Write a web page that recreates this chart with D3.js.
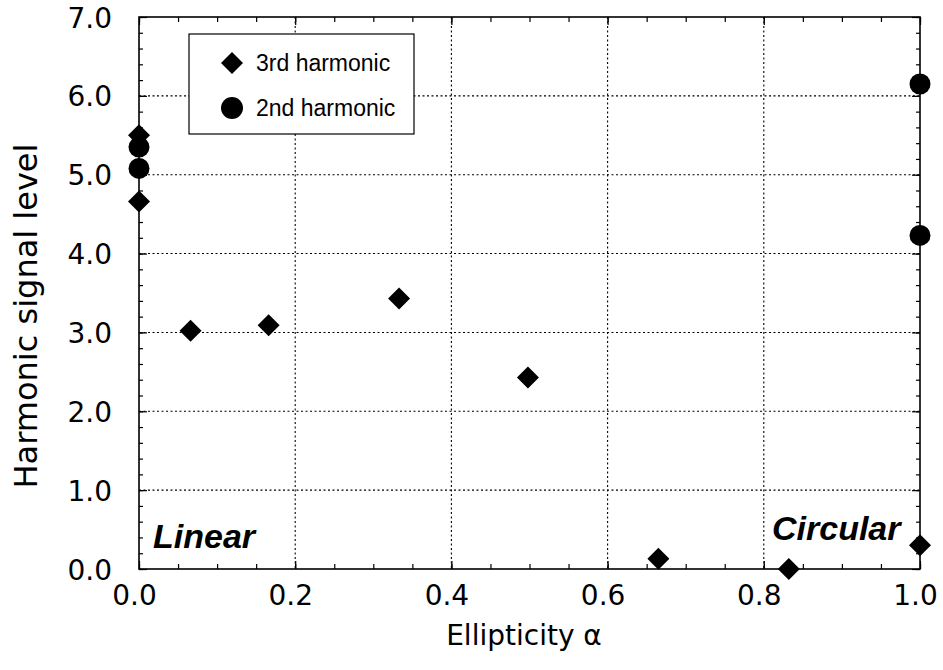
<!DOCTYPE html>
<html>
<head>
<meta charset="utf-8">
<script src="https://cdn.jsdelivr.net/npm/d3@7"></script>
<style>
  html, body { margin: 0; padding: 0; background: #fff; }
  svg { display: block; }
</style>
</head>
<body>
<svg id="chart" width="943" height="670"></svg>
<script>
// ---- data ----
const thirdX = [0.0, 0.0, 0.066, 0.166, 0.333, 0.498, 0.665, 0.832, 1.0];
const thirdY = [5.50, 4.66, 3.02, 3.09, 3.43, 2.43, 0.13, 0.00, 0.30];
const secondX = [0.0, 0.0, 1.0, 1.0];
const secondY = [5.35, 5.08, 6.15, 4.23];
const seriesNames = ["3rd harmonic", "2nd harmonic"];
const xTicks = [0.0, 0.2, 0.4, 0.6, 0.8, 1.0];
const yTicks = [0, 1, 2, 3, 4, 5, 6, 7];
const xLabel = "Ellipticity \u03b1";
const yLabel = "Harmonic signal level";
const regionLabels = ["Linear", "Circular"];

// ---- layout ----
const svg = d3.select("#chart");
const L = 139, R = 920, T = 17, B = 569;
const x = d3.scaleLinear().domain([0, 1]).range([L, R]);
const y = d3.scaleLinear().domain([0, 7]).range([B, T]);
const tickFont = "'DejaVu Sans', sans-serif";

// gridlines (dotted)
const grid = svg.append("g").attr("stroke", "#000").attr("stroke-width", 1.1)
  .attr("stroke-dasharray", "2,2.5");
grid.selectAll("line.gx").data(xTicks.filter(d => d > 0 && d < 1)).join("line")
  .attr("x1", d => x(d)).attr("x2", d => x(d)).attr("y1", T).attr("y2", B);
grid.selectAll("line.gy").data(yTicks.filter(d => d > 0 && d < 7)).join("line")
  .attr("y1", d => y(d)).attr("y2", d => y(d)).attr("x1", L).attr("x2", R);

// axes with inward ticks (major + minor) on all four sides
function addAxis(axisGen, transform) {
  const g = svg.append("g").attr("transform", transform).call(axisGen);
  g.select(".domain").remove();
  g.selectAll("line").attr("stroke", "#000").attr("stroke-width", 1.2);
  return g;
}
const xMinor = d3.range(0, 1.0001, 0.05);
const yMinor = d3.range(0, 7.0001, 0.2);

addAxis(d3.axisBottom(x).tickValues(xMinor).tickSize(-5).tickFormat(""), `translate(0,${B})`);
addAxis(d3.axisTop(x).tickValues(xMinor).tickSize(-5).tickFormat(""), `translate(0,${T})`);
addAxis(d3.axisLeft(y).tickValues(yMinor).tickSize(-4).tickFormat(""), `translate(${L},0)`);
addAxis(d3.axisRight(y).tickValues(yMinor).tickSize(-4).tickFormat(""), `translate(${R},0)`);

const xAx = addAxis(d3.axisBottom(x).tickValues(xTicks).tickSize(-8).tickPadding(0)
  .tickFormat(d3.format(".1f")), `translate(0,${B})`);
xAx.selectAll("text").attr("font-family", tickFont).attr("font-size", 28)
  .attr("fill", "#000").attr("dy", null).attr("y", 36).attr("dx", -5);
addAxis(d3.axisTop(x).tickValues(xTicks).tickSize(-8).tickFormat(""), `translate(0,${T})`);

const yAx = addAxis(d3.axisLeft(y).tickValues(yTicks).tickSize(-8).tickPadding(0)
  .tickFormat(d3.format(".1f")), `translate(${L},0)`);
yAx.selectAll("text").attr("font-family", tickFont).attr("font-size", 28)
  .attr("fill", "#000").attr("x", -27).attr("dy", "0.36em");
addAxis(d3.axisRight(y).tickValues(yTicks).tickSize(-8).tickFormat(""), `translate(${R},0)`);

// frame
svg.append("rect").attr("x", L).attr("y", T).attr("width", R - L).attr("height", B - T)
  .attr("fill", "none").attr("stroke", "#000").attr("stroke-width", 1.6);

// region labels
svg.append("text").attr("x", 153).attr("y", 548).text(regionLabels[0])
  .attr("font-family", "'Liberation Sans', Arial, sans-serif").attr("font-weight", "bold")
  .attr("font-style", "italic").attr("font-size", 34).attr("fill", "#000");
svg.append("text").attr("x", 772).attr("y", 540).text(regionLabels[1])
  .attr("font-family", "'Liberation Sans', Arial, sans-serif").attr("font-weight", "bold")
  .attr("font-style", "italic").attr("font-size", 34).attr("fill", "#000");

// markers
const diamond = d3.symbol().type(d3.symbolSquare).size(242);
const third = thirdX.map((v, i) => ({ x: v, y: thirdY[i] }));
const second = secondX.map((v, i) => ({ x: v, y: secondY[i] }));

svg.append("g").selectAll("circle").data(second).join("circle")
  .attr("cx", d => x(d.x)).attr("cy", d => y(d.y)).attr("r", 10.5).attr("fill", "#000");
svg.append("g").selectAll("path").data(third).join("path")
  .attr("d", diamond)
  .attr("transform", d => `translate(${x(d.x)},${y(d.y)}) rotate(45)`)
  .attr("fill", "#000");

// legend
const lg = svg.append("g");
lg.append("rect").attr("x", 189).attr("y", 34).attr("width", 225).attr("height", 100)
  .attr("fill", "#fff").attr("stroke", "#000").attr("stroke-width", 1.2);
lg.append("path").attr("d", diamond).attr("transform", "translate(232,63) rotate(45)").attr("fill", "#000");
lg.append("circle").attr("cx", 232).attr("cy", 108).attr("r", 11).attr("fill", "#000");
lg.selectAll("text").data(seriesNames).join("text")
  .attr("x", 256).attr("y", (d, i) => [71, 116][i]).text(d => d)
  .attr("font-family", "'Liberation Sans', Arial, sans-serif").attr("font-size", 23).attr("fill", "#000");

// axis titles
svg.append("text").attr("x", 524).attr("y", 645).attr("text-anchor", "middle")
  .attr("font-family", tickFont).attr("font-size", 28).attr("fill", "#000").text(xLabel);
svg.append("text").attr("transform", "translate(37,316) rotate(-90)").attr("text-anchor", "middle")
  .attr("font-family", tickFont).attr("font-size", 32).attr("fill", "#000").text(yLabel);
</script>
</body>
</html>
